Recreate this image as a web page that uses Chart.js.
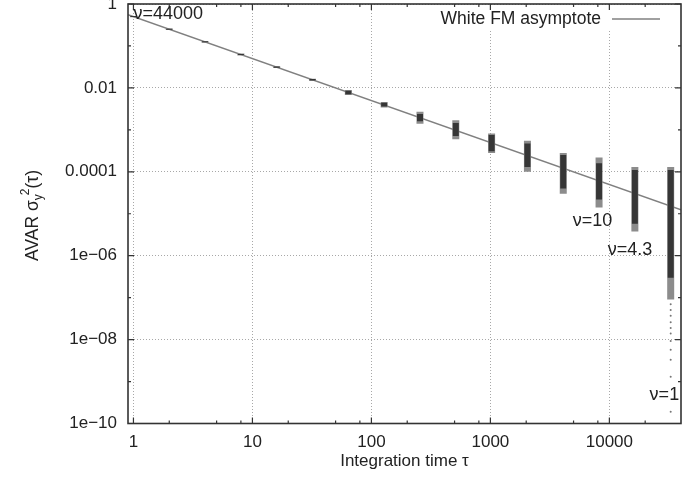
<!DOCTYPE html>
<html lang="en">
<head>
<meta charset="UTF-8">
<title>AVAR vs integration time</title>
<script src="https://cdn.jsdelivr.net/npm/chart.js"></script>
<style>
  html, body { margin: 0; padding: 0; background: #fff; }
  #wrap { width: 699px; height: 480px; }
</style>
</head>
<body>
<div id="wrap"><canvas id="avarChart" width="699" height="480"></canvas></div>
<script>
// integration times (tau) where the AVAR clusters sit
const taus = [1, 2, 4, 8, 16, 32, 64, 128, 256, 512, 1024, 2048, 4096, 8192, 16384, 32768];
// dense part of each cluster
const coreHi = [0.515, 0.258, 0.129, 0.0645, 0.0323, 0.0163, 0.0086, 0.0044, 0.0024, 0.00145, 0.00075, 0.00047, 0.00025, 0.00016, 0.00011, 0.00011];
const coreLo = [0.487, 0.243, 0.122, 0.0607, 0.0303, 0.0150, 0.0071, 0.0036, 0.0016, 0.00071, 0.00031, 0.00013, 0.00004, 0.000022, 0.0000058, 0.0000003];
// sparse fringe of each cluster
const haloHi = [0.52, 0.26, 0.13, 0.066, 0.033, 0.0166, 0.0089, 0.0046, 0.0027, 0.0017, 0.00082, 0.00055, 0.00028, 0.00022, 0.00013, 0.00013];
const haloLo = [0.48, 0.24, 0.12, 0.059, 0.0298, 0.0148, 0.0068, 0.0034, 0.0014, 0.0006, 0.00028, 0.0001, 0.00003, 0.000014, 0.0000038, 0.00000009];
// isolated points below the last cluster
const tailTau = [32768, 32768, 32768, 32768, 32768, 32768, 32768, 32768, 32768, 32768, 32768];
const tailVal = [7.0e-8, 5.1e-8, 3.7e-8, 2.6e-8, 1.9e-8, 1.4e-8, 9.3e-9, 5.7e-9, 3.3e-9, 1.3e-9, 1.9e-10];
// white FM asymptote endpoints
const asymTau = [0.9, 40000];
const asymVal = [0.555, 1.25e-5];

// axis ticks
const xMajor = [1, 10, 100, 1000, 10000];
const xLabels = ['1', '10', '100', '1000', '10000'];
const xMinor = [2, 5, 8, 20, 50, 80, 200, 500, 800, 2000, 5000, 8000, 20000];
const yMajor = [1e-10, 1e-8, 1e-6, 1e-4, 1e-2, 1];
const yLabels = ['1e\u221210', '1e\u221208', '1e\u221206', '0.0001', '0.01', '1'];
const yMinor = [1e-9, 1e-7, 1e-5, 1e-3, 0.1];

// degrees-of-freedom notes, anchored in data space
const notes = [
  { text: '\u03bd=44000', x: 1.0, y: 0.58, align: 'left' },
  { text: '\u03bd=10', x: 7200, y: 6.8e-6, align: 'center' },
  { text: '\u03bd=4.3', x: 14900, y: 1.38e-6, align: 'center' },
  { text: '\u03bd=1', x: 29000, y: 4.8e-10, align: 'center' }
];

function segments(lo, hi) {
  const pts = [];
  taus.forEach((t, i) => {
    pts.push({ x: t, y: lo[i] }, { x: t, y: hi[i] }, { x: t, y: null });
  });
  return pts;
}

const FONT = 'Liberation Sans, Arial, Helvetica, sans-serif';

const framePlugin = {
  id: 'frame',
  afterDatasetsDraw(chart) {
    const { ctx, chartArea: a, scales: { x, y } } = chart;
    ctx.save();

    // legend (white box over the grid)
    ctx.fillStyle = '#fff';
    ctx.fillRect(434, a.top + 1, a.right - 434 - 6, 26);
    ctx.fillStyle = '#222';
    ctx.font = '17.5px ' + FONT;
    ctx.textAlign = 'right';
    ctx.textBaseline = 'middle';
    ctx.fillText('White FM asymptote', 601, a.top + 15);
    ctx.strokeStyle = '#808080';
    ctx.lineWidth = 1.5;
    ctx.beginPath();
    ctx.moveTo(612, a.top + 15);
    ctx.lineTo(660, a.top + 15);
    ctx.stroke();

    // frame
    ctx.strokeStyle = '#333';
    ctx.lineWidth = 1.6;
    ctx.strokeRect(a.left, a.top, a.right - a.left, a.bottom - a.top);

    // inward tick marks on all four sides
    ctx.lineWidth = 1.2;
    ctx.beginPath();
    const xt = (v, len) => {
      const px = x.getPixelForValue(v);
      ctx.moveTo(px, a.bottom); ctx.lineTo(px, a.bottom - len);
      ctx.moveTo(px, a.top); ctx.lineTo(px, a.top + len);
    };
    const yt = (v, len) => {
      const py = y.getPixelForValue(v);
      ctx.moveTo(a.left, py); ctx.lineTo(a.left + len, py);
      ctx.moveTo(a.right, py); ctx.lineTo(a.right - len, py);
    };
    xMajor.forEach(v => xt(v, 6));
    xMinor.forEach(v => xt(v, 3));
    yMajor.forEach(v => yt(v, 6));
    yMinor.forEach(v => yt(v, 3));
    ctx.stroke();

    // notes
    ctx.fillStyle = '#222';
    ctx.font = '18px ' + FONT;
    ctx.textBaseline = 'middle';
    notes.forEach(n => {
      ctx.textAlign = n.align;
      ctx.fillText(n.text, x.getPixelForValue(n.x), y.getPixelForValue(n.y));
    });

    // rotated y title: AVAR σ_y^2(τ)
    const big = '17.5px ' + FONT, small = '12px ' + FONT;
    const parts = [
      { t: 'AVAR \u03c3', f: big, dy: 0 },
      { t: 'y', f: small, dy: 4 },
      { t: '2', f: small, dy: -9 },
      { t: '(\u03c4)', f: big, dy: 0 }
    ];
    let total = 0;
    parts.forEach(p => { ctx.font = p.f; p.w = ctx.measureText(p.t).width; total += p.w; });
    ctx.translate(38, 215 + total / 2);
    ctx.rotate(-Math.PI / 2);
    ctx.textAlign = 'left';
    ctx.textBaseline = 'alphabetic';
    let off = 0;
    parts.forEach(p => {
      ctx.font = p.f;
      ctx.fillText(p.t, off, p.dy);
      off += p.w + (p.t === 'y' ? -1 : 0);
    });
    ctx.restore();
  }
};

new Chart(document.getElementById('avarChart'), {
  type: 'scatter',
  data: {
    datasets: [
      {
        label: 'core',
        data: segments(coreLo, coreHi),
        showLine: true,
        borderColor: '#363636',
        borderWidth: 6,
        borderCapStyle: 'butt',
        pointRadius: 0,
        spanGaps: false
      },
      {
        label: 'fringe',
        data: segments(haloLo, haloHi),
        showLine: true,
        borderColor: '#8c8c8c',
        borderWidth: 7,
        borderCapStyle: 'butt',
        pointRadius: 0,
        spanGaps: false
      },
      {
        label: 'tail',
        data: tailTau.map((t, i) => ({ x: t, y: tailVal[i] })),
        pointRadius: 1,
        pointBorderWidth: 0,
        pointBackgroundColor: '#777'
      },
      {
        label: 'White FM asymptote',
        data: asymTau.map((t, i) => ({ x: t, y: asymVal[i] })),
        showLine: true,
        borderColor: '#808080',
        borderWidth: 1.5,
        pointRadius: 0
      }
    ]
  },
  options: {
    responsive: false,
    animation: false,
    layout: { padding: { left: 0, top: 4, right: 18, bottom: 0 } },
    plugins: { legend: { display: false }, tooltip: { enabled: false } },
    scales: {
      x: {
        type: 'logarithmic',
        min: 0.9,
        max: 40000,
        afterBuildTicks: s => { s.ticks = xMajor.map(v => ({ value: v })); },
        afterFit: s => { s.height = 56.5; s.paddingLeft = 0; s.paddingRight = 0; },
        ticks: {
          autoSkip: false,
          maxRotation: 0,
          padding: 9,
          color: '#222',
          font: { family: FONT, size: 17 },
          callback: (v) => xLabels[xMajor.indexOf(v)]
        },
        grid: { color: '#a8a8a8', lineWidth: 1, drawTicks: false },
        border: { display: false, dash: [1, 2] },
        title: {
          display: true,
          text: 'Integration time \u03c4',
          color: '#222',
          font: { family: FONT, size: 17 },
          padding: { top: 0, bottom: 8 }
        }
      },
      y: {
        type: 'logarithmic',
        min: 1e-10,
        max: 1,
        afterBuildTicks: s => { s.ticks = yMajor.map(v => ({ value: v })); },
        afterFit: s => { s.width = 128; s.paddingTop = 0; s.paddingBottom = 0; },
        ticks: {
          autoSkip: false,
          padding: 11,
          color: '#222',
          font: { family: FONT, size: 17 },
          callback: (v) => yLabels[yMajor.indexOf(v)]
        },
        grid: { color: '#a8a8a8', lineWidth: 1, drawTicks: false },
        border: { display: false, dash: [1, 2] }
      }
    }
  },
  plugins: [framePlugin]
});
</script>
</body>
</html>
